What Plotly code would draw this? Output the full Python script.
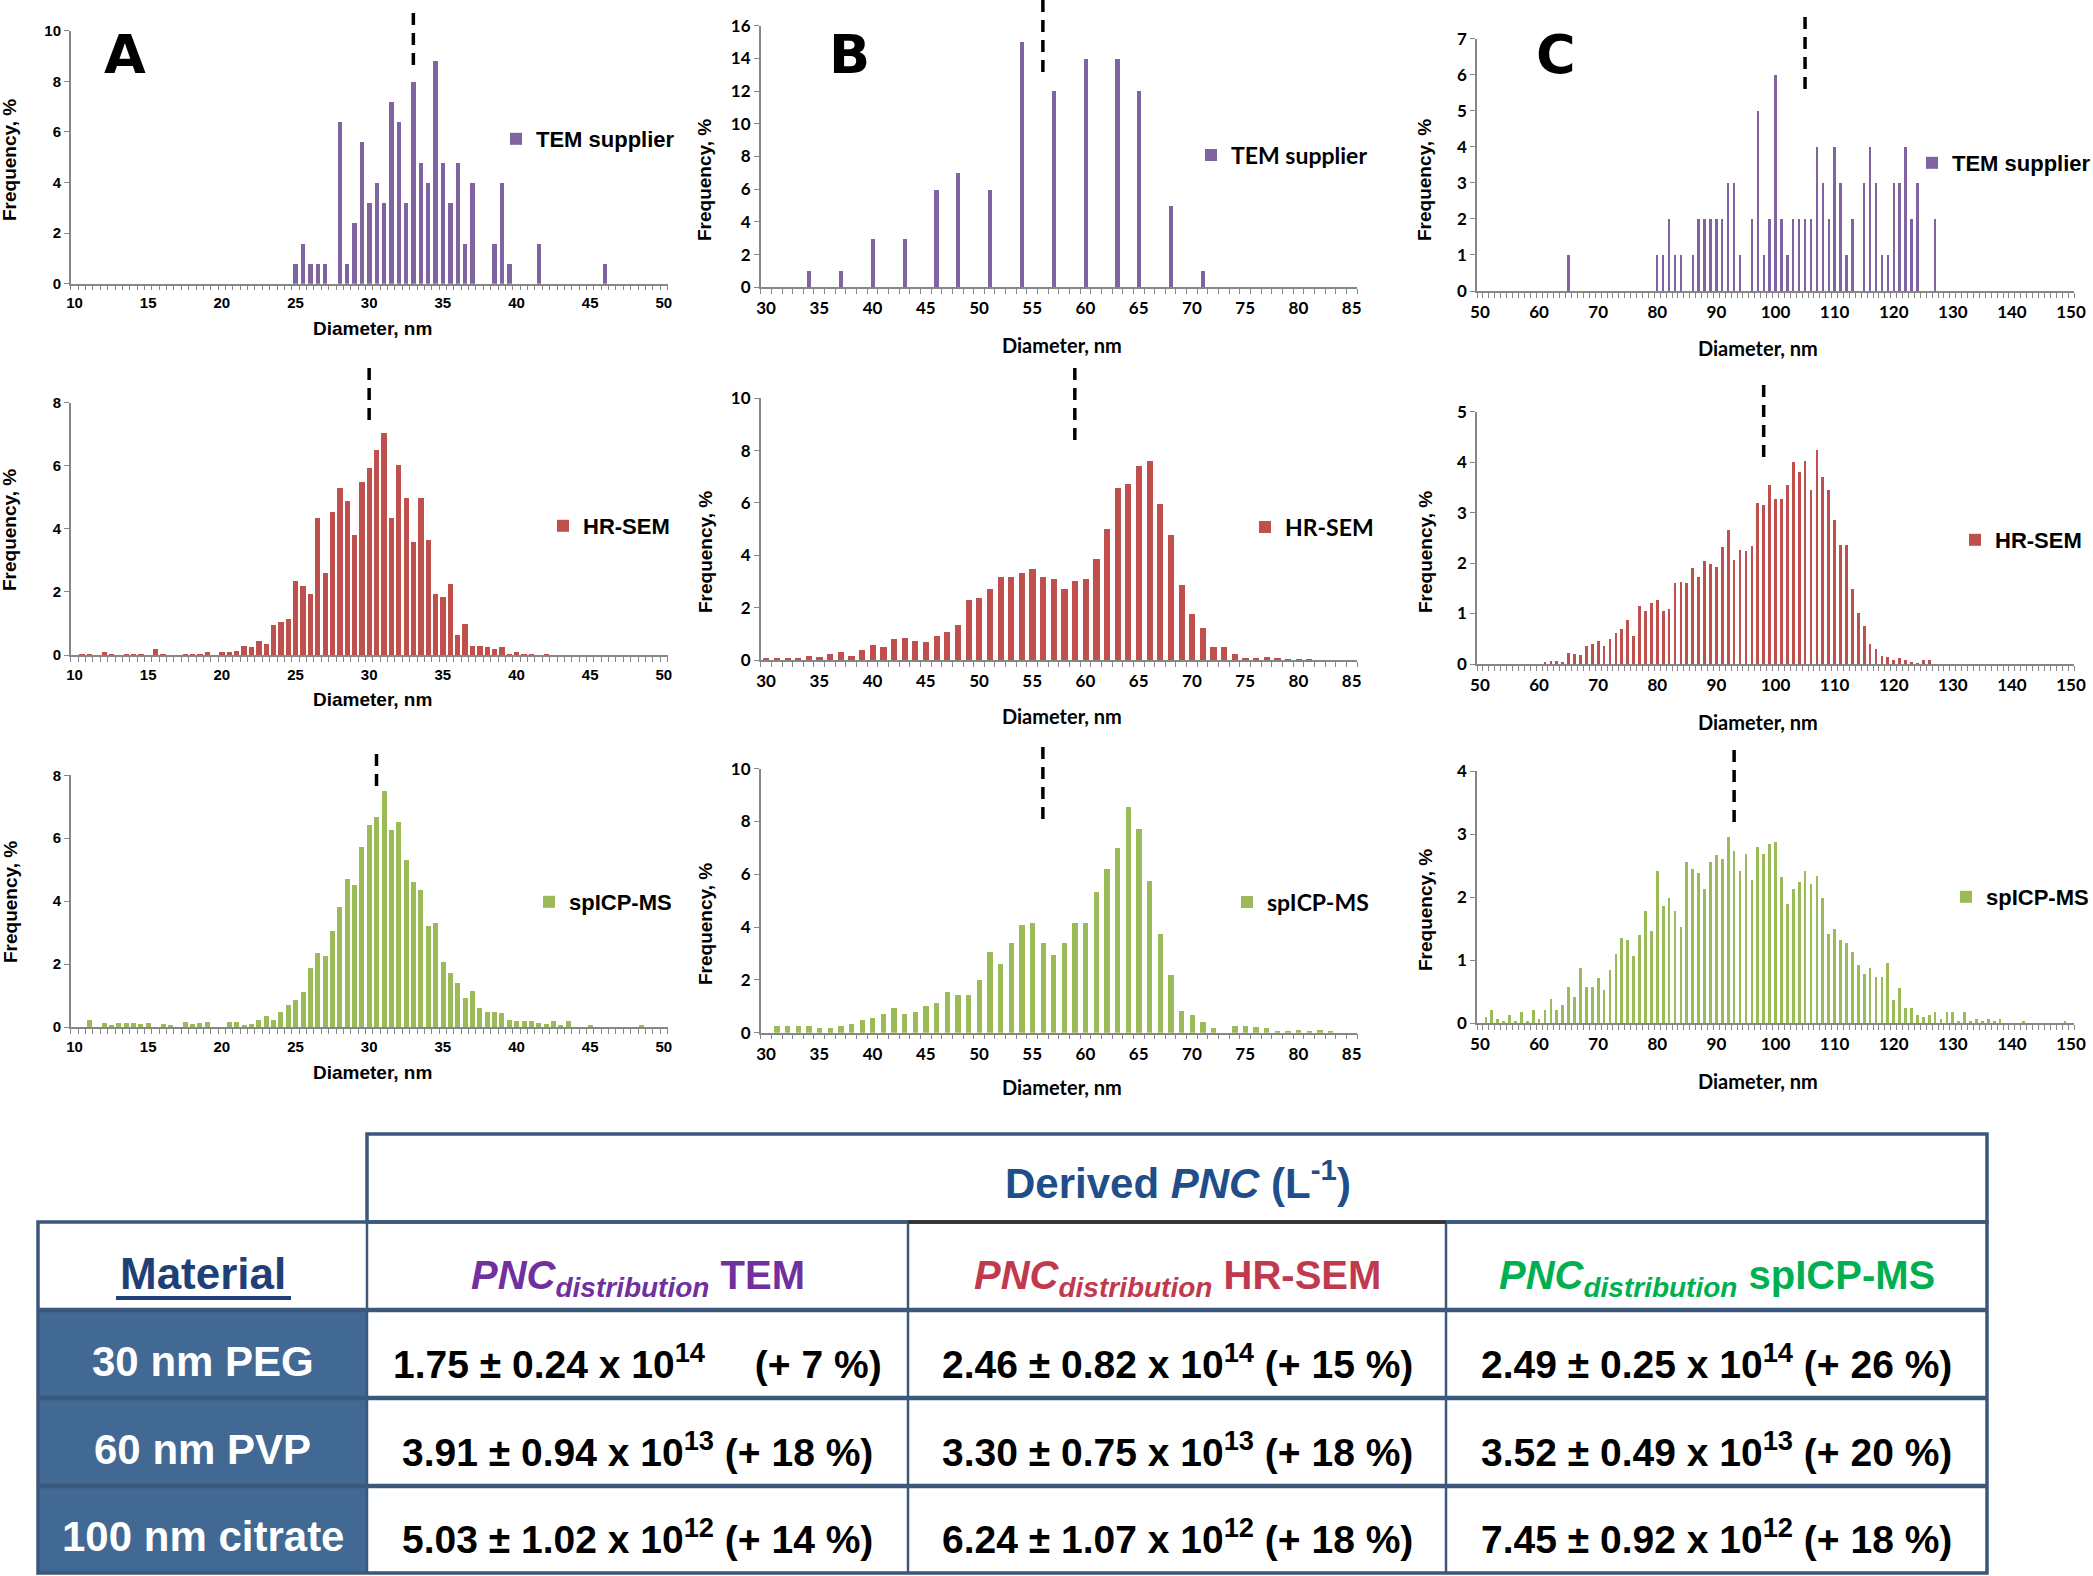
import plotly.graph_objects as go

W, H = 2093, 1576

# ===================== DATA =====================
series_names = ["TEM supplier", "HR-SEM", "spICP-MS"]

# ---- Panel A : 30 nm PEG (diameter, nm / frequency, %) ----
a_tem_d = [25, 25.5, 26, 26.5, 27, 28, 28.5, 29, 29.5, 30, 30.5, 31, 31.5, 32, 32.5, 33, 33.5,
           34, 34.5, 35, 35.5, 36, 36.5, 37, 38.5, 39, 39.5, 41.5, 46]
a_tem_f = [0.8, 1.6, 0.8, 0.8, 0.8, 6.4, 0.8, 2.4, 5.6, 3.2, 4.0, 3.2, 7.2, 6.4, 3.2, 8.0, 4.8,
           4.0, 8.8, 4.8, 3.2, 4.8, 1.6, 4.0, 1.6, 4.0, 0.8, 1.6, 0.8]

a_sem_d = [10.5, 11, 12, 12.5, 13.5, 14, 14.5, 15.5, 16, 17.5, 18, 18.5, 19,
           20, 20.5, 21, 21.5, 22, 22.5, 23, 23.5, 24, 24.5,
           25, 25.5, 26, 26.5, 27, 27.5, 28, 28.5, 29, 29.5,
           30, 30.5, 31, 31.5, 32, 32.5, 33, 33.5, 34, 34.5,
           35, 35.5, 36, 36.5, 37, 37.5, 38, 38.5, 39, 39.5,
           40, 40.5, 41, 42]
a_sem_f = [0.05, 0.05, 0.1, 0.05, 0.05, 0.05, 0.02, 0.2, 0.02, 0.05, 0.02, 0.05, 0.1,
           0.1, 0.1, 0.15, 0.3, 0.25, 0.45, 0.35, 0.95, 1.05, 1.15,
           2.35, 2.2, 1.95, 4.35, 2.6, 4.55, 5.3, 4.9, 3.8, 5.5,
           5.95, 6.5, 7.05, 4.35, 6.05, 5.0, 3.6, 5.0, 3.65, 1.95,
           1.85, 2.25, 0.65, 1.0, 0.3, 0.3, 0.25, 0.2, 0.25, 0.02,
           0.1, 0.03, 0.05, 0.05]

a_icp_d = [11, 12, 12.5, 13, 13.5, 14, 14.5, 15, 16, 16.5, 17.5, 18, 18.5, 19, 20.5, 21, 21.5,
           22, 22.5, 23, 23.5, 24, 24.5, 25, 25.5, 26, 26.5, 27, 27.5, 28, 28.5, 29, 29.5,
           30, 30.5, 31, 31.5, 32, 32.5, 33, 33.5, 34, 34.5, 35, 35.5, 36, 36.5, 37, 37.5,
           38, 38.5, 39, 39.5, 40, 40.5, 41, 41.5, 42, 42.5, 43, 43.5, 45, 48.5]
a_icp_f = [0.2, 0.12, 0.05, 0.12, 0.12, 0.12, 0.08, 0.12, 0.08, 0.05, 0.15, 0.08, 0.12, 0.15, 0.15, 0.15, 0.05,
           0.08, 0.2, 0.35, 0.2, 0.47, 0.7, 0.85, 1.1, 1.85, 2.35, 2.25, 3.05, 3.8, 4.7, 4.5, 5.7,
           6.4, 6.65, 7.5, 6.25, 6.5, 5.3, 4.6, 4.35, 3.2, 3.3, 2.05, 1.7, 1.4, 0.9, 1.12, 0.6,
           0.47, 0.47, 0.43, 0.2, 0.17, 0.17, 0.17, 0.12, 0.08, 0.17, 0.05, 0.17, 0.05, 0.05]

# ---- Panel B : 60 nm PVP ----
b_tem_d = [34, 37, 40, 43, 46, 48, 51, 54, 57, 60, 63, 65, 68, 71]
b_tem_f = [1, 1, 3, 3, 6, 7, 6, 15, 12, 14, 14, 12, 5, 1]

b_sem_d = list(range(30, 82))
b_sem_f = [0.08, 0.03, 0.03, 0.03, 0.15, 0.12, 0.2, 0.3, 0.15, 0.38,
           0.57, 0.5, 0.78, 0.83, 0.72, 0.68, 0.92, 1.05, 1.33, 2.3,
           2.35, 2.7, 3.15, 3.15, 3.3, 3.45, 3.15, 3.1, 2.7, 3.0,
           3.1, 3.85, 5.0, 6.55, 6.7, 7.4, 7.6, 5.95, 4.78, 2.85,
           1.75, 1.22, 0.5, 0.5, 0.2, 0.07, 0.07, 0.1, 0.03, 0.02,
           0.02, 0.02]

b_icp_d = list(range(31, 73)) + list(range(74, 84))
b_icp_f = [0.28, 0.28, 0.25, 0.28, 0.2, 0.2, 0.28, 0.33, 0.5, 0.55,
           0.72, 0.95, 0.72, 0.78, 1.03, 1.13, 1.57, 1.43, 1.43, 2.02,
           3.08, 2.6, 3.4, 4.1, 4.15, 3.4, 2.95, 3.4, 4.15, 4.15,
           5.35, 6.2, 7.0, 8.55, 7.72, 5.75, 3.75, 2.2, 0.82, 0.68,
           0.4, 0.18,
           0.28, 0.28, 0.22, 0.18, 0.07, 0.05, 0.1, 0.05, 0.1, 0.05]

# ---- Panel C : 100 nm citrate ----
c_tem_d = [65, 80, 81, 82, 83, 84, 86, 87, 88, 89, 90, 91, 92, 93, 94,
           96, 97, 98, 99, 100, 101, 102, 103, 104, 105, 106, 107, 108, 109, 110, 111, 112, 113,
           115, 116, 117, 118, 119, 120, 121, 122, 123, 124, 127]
c_tem_f = [1, 1, 1, 2, 1, 1, 1, 2, 2, 2, 2, 2, 3, 3, 1,
           2, 5, 1, 2, 6, 2, 1, 2, 2, 2, 2, 4, 3, 2, 4, 3, 1, 2,
           3, 4, 3, 1, 1, 3, 3, 4, 2, 3, 2]

c_sem_d = list(range(61, 127))
c_sem_f = [0.05, 0.07, 0.07, 0.05, 0.23, 0.21, 0.19, 0.36, 0.41, 0.47,
           0.36, 0.5, 0.62, 0.69, 0.87, 0.57, 1.15, 1.06, 1.22, 1.27,
           1.06, 1.1, 1.62, 1.64, 1.62, 1.9, 1.74, 2.04, 1.99, 1.92,
           2.32, 2.67, 2.06, 2.27, 2.25, 2.34, 3.2, 3.15, 3.55, 3.27,
           3.27, 3.55, 4.0, 3.82, 4.02, 3.45, 4.25, 3.71, 3.45, 2.85,
           2.36, 2.36, 1.5, 1.01, 0.76, 0.41, 0.31, 0.17, 0.15, 0.09,
           0.12, 0.09, 0.05, 0.03, 0.09, 0.08]

c_icp_d = list(range(51, 139)) + [142, 149]
c_icp_f = [0.1, 0.21, 0.07, 0.03, 0.13, 0.03, 0.17, 0.03, 0.21, 0.07,
           0.21, 0.38, 0.21, 0.28, 0.57, 0.42, 0.88, 0.57, 0.57, 0.72,
           0.53, 0.84, 1.1, 1.35, 1.31, 1.07, 1.39, 1.78, 1.46, 2.41,
           1.85, 1.99, 1.78, 1.52, 2.56, 2.45, 2.38, 2.13, 2.56, 2.66,
           2.6, 2.95, 2.73, 2.41, 2.69, 2.27, 2.8, 2.69, 2.84, 2.87,
           2.31, 1.89, 2.13, 2.24, 2.41, 2.2, 2.34, 1.99, 1.42, 1.5,
           1.31, 1.27, 1.12, 0.92, 0.77, 0.88, 0.73, 0.73, 0.95, 0.36,
           0.56, 0.24, 0.24, 0.13, 0.09, 0.13, 0.17, 0.07, 0.17, 0.17,
           0.02, 0.17, 0.02, 0.07, 0.03, 0.07, 0.03, 0.07,
           0.02, 0.02]

# mean diameters (dashed markers), rows: TEM, HR-SEM, spICP-MS
mean_A = [33, 30, 30.5]
mean_B = [56, 59, 56]
mean_C = [105, 98, 93]

# tick labels
x_ticks_A = [10, 15, 20, 25, 30, 35, 40, 45, 50]
x_ticks_B = [30, 35, 40, 45, 50, 55, 60, 65, 70, 75, 80, 85]
x_ticks_C = [50, 60, 70, 80, 90, 100, 110, 120, 130, 140, 150]
y_ticks = {
    "A": [[0, 2, 4, 6, 8, 10], [0, 2, 4, 6, 8], [0, 2, 4, 6, 8]],
    "B": [[0, 2, 4, 6, 8, 10, 12, 14, 16], [0, 2, 4, 6, 8, 10], [0, 2, 4, 6, 8, 10]],
    "C": [[0, 1, 2, 3, 4, 5, 6, 7], [0, 1, 2, 3, 4, 5], [0, 1, 2, 3, 4]],
}
panel_letters = ["A", "B", "C"]

# ---- table ----
materials = ["30 nm PEG", "60 nm PVP", "100 nm citrate"]
methods = ["TEM", "HR-SEM", "spICP-MS"]
pnc_mean = [[1.75, 2.46, 2.49], [3.91, 3.30, 3.52], [5.03, 6.24, 7.45]]
pnc_sd = [[0.24, 0.82, 0.25], [0.94, 0.75, 0.49], [1.02, 1.07, 0.92]]
pnc_exp = [14, 13, 12]
pnc_pct = [[7, 15, 26], [18, 18, 20], [14, 18, 18]]

# ===================== STYLE / LAYOUT =====================
bar_colors = ["#8064A2", "#C0504D", "#9BBB59"]
method_colors = ["#7030A0", "#C0394D", "#00B050"]
AXC = "#868686"
ARIAL = "Liberation Sans, Arial, sans-serif"
CALI = "Lato, Carlito, Calibri, sans-serif"


def px(x):
    return x / W


def py(y):
    return 1 - y / H


def ann(x, y, text, font, **kw):
    d = dict(x=px(x), y=py(y), xref="paper", yref="paper", text=text, showarrow=False,
             xanchor="center", yanchor="middle", font=font)
    d.update(kw)
    return d


col_geom = {
    "A": dict(x0=70.8, x1=667.5, rng=[9.75, 50.25], m0=9.75, md=0.5, ticks=x_ticks_A,
              tfont=dict(family=ARIAL, size=15), tsize=19, tfam=ARIAL,
              ftitle_x=10, dtitle_x=372, letter_x=125),
    "B": dict(x0=760.7, x1=1357.0, rng=[29.5, 85.5], m0=29.5, md=1, ticks=x_ticks_B,
              tfont=dict(family=CALI, size=17), tsize=20, tfam=CALI,
              ftitle_x=705, dtitle_x=1062, letter_x=849),
    "C": dict(x0=1477.0, x1=2074.0, rng=[49.5, 150.5], m0=49.5, md=1, ticks=x_ticks_C,
              tfont=dict(family=CALI, size=17), tsize=20, tfam=CALI,
              ftitle_x=1425, dtitle_x=1758, letter_x=1556),
}
# per panel: top px, baseline px, ymax, bar width, freq-title y, diam-title y, legend (text x, y), dash (y0,y1)
row_geom = {
    "A": [dict(top=30.7, bot=283.7, ymax=10, bw=0.30, fy=160, dy=328, lg=(536, 139), dash=(13, 70)),
          dict(top=402.7, bot=655.0, ymax=8, bw=0.36, fy=530, dy=700, lg=(583, 526), dash=(368, 427)),
          dict(top=775.3, bot=1027.0, ymax=8, bw=0.34, fy=902, dy=1072, lg=(569, 902), dash=(754, 792))],
    "B": [dict(top=25.7, bot=287.3, ymax=16, bw=0.42, fy=180, dy=345, lg=(1231, 155), dash=(0, 80)),
          dict(top=398.3, bot=660.0, ymax=10, bw=0.58, fy=552, dy=716, lg=(1285, 527), dash=(368, 447)),
          dict(top=768.7, bot=1032.7, ymax=10, bw=0.50, fy=924, dy=1087, lg=(1267, 902), dash=(747, 826))],
    "C": [dict(top=38.7, bot=291.0, ymax=7, bw=0.40, fy=180, dy=348, lg=(1952, 163), dash=(17, 95)),
          dict(top=411.7, bot=664.0, ymax=5, bw=0.46, fy=552, dy=722, lg=(1995, 540), dash=(385, 463)),
          dict(top=771.0, bot=1023.0, ymax=4, bw=0.46, fy=910, dy=1081, lg=(1986, 897), dash=(750, 829))],
}
legend_fonts = {"A": dict(family=ARIAL, size=22, weight="bold", color="black"),
                "B": dict(family=CALI, size=23, weight="bold", color="black"),
                "C": dict(family=ARIAL, size=22, weight="bold", color="black")}

data = {
    "A": [(a_tem_d, a_tem_f), (a_sem_d, a_sem_f), (a_icp_d, a_icp_f)],
    "B": [(b_tem_d, b_tem_f), (b_sem_d, b_sem_f), (b_icp_d, b_icp_f)],
    "C": [(c_tem_d, c_tem_f), (c_sem_d, c_sem_f), (c_icp_d, c_icp_f)],
}
means = {"A": mean_A, "B": mean_B, "C": mean_C}

fig = go.Figure()
layout = dict(width=W, height=H, margin=dict(l=0, r=0, t=0, b=0, autoexpand=False),
              paper_bgcolor="white", plot_bgcolor="white", bargap=0, showlegend=True)
annotations = []
shapes = []

i = 0
for ci, col in enumerate(["A", "B", "C"]):
    cg = col_geom[col]
    for ri in range(3):
        i += 1
        rg = row_geom[col][ri]
        xa = "x" if i == 1 else f"x{i}"
        ya = "y" if i == 1 else f"y{i}"
        lg = "legend" if i == 1 else f"legend{i}"
        d, f = data[col][ri]
        fig.add_trace(go.Bar(x=d, y=f, width=rg["bw"], name=series_names[ri],
                             marker=dict(color=bar_colors[ri], line=dict(width=0)),
                             xaxis=xa, yaxis=ya, legend=lg, showlegend=True,
                             hoverinfo="x+y"))
        tf = dict(cg["tfont"], weight="bold", color="black")
        layout["xaxis" if i == 1 else f"xaxis{i}"] = dict(
            domain=[px(cg["x0"]), px(cg["x1"])], range=cg["rng"], anchor=ya,
            showline=True, linecolor=AXC, linewidth=1.5, zeroline=False, showgrid=False,
            tickmode="array", tickvals=cg["ticks"], ticktext=[str(t) for t in cg["ticks"]],
            ticks="outside", ticklen=5, tickcolor="rgba(0,0,0,0)",
            minor=dict(tick0=cg["m0"], dtick=cg["md"], ticks="outside", ticklen=5,
                       tickcolor=AXC, tickwidth=1, showgrid=False),
            tickfont=tf, fixedrange=True)
        layout["yaxis" if i == 1 else f"yaxis{i}"] = dict(
            domain=[py(rg["bot"]), py(rg["top"])], range=[0, rg["ymax"]], anchor=xa,
            showline=True, linecolor=AXC, linewidth=1.5, zeroline=False, showgrid=False,
            tickmode="array", tickvals=y_ticks[col][ri], ticks="outside", ticklen=5,
            tickcolor=AXC, tickfont=tf, fixedrange=True)
        layout[lg] = dict(x=px(rg["lg"][0] - 40), y=py(rg["lg"][1]), xanchor="left",
                          yanchor="middle", bgcolor="rgba(0,0,0,0)", borderwidth=0,
                          font=legend_fonts[col], itemwidth=30, itemclick=False)
        # axis titles
        annotations.append(ann(cg["ftitle_x"], rg["fy"], "Frequency, %",
                               dict(family=ARIAL, size=19, weight="bold", color="black"),
                               textangle=-90))
        annotations.append(ann(cg["dtitle_x"], rg["dy"], "Diameter, nm",
                               dict(family=cg["tfam"], size=cg["tsize"], weight="bold", color="black")))
        # dashed mean-diameter marker
        shapes.append(dict(type="line", xref=xa, yref="paper", x0=means[col][ri], x1=means[col][ri],
                           y0=py(rg["dash"][0]), y1=py(rg["dash"][1]),
                           line=dict(color="black", width=3.5, dash="12px,8px")))
    annotations.append(ann(cg["letter_x"], 55, panel_letters[ci],
                           dict(family="DejaVu Sans, Liberation Sans", size=54, weight="bold",
                                color="black")))

# ===================== TABLE =====================
TX = [38, 367, 908, 1446, 1987]
TY = [1134, 1222, 1310, 1398, 1486, 1573]
TBL = "#3A587C"
BLUE = "#416993"
LW = 3.5

# material column fill
shapes.append(dict(type="rect", xref="paper", yref="paper", x0=px(TX[0]), x1=px(TX[1]),
                   y0=py(TY[5]), y1=py(TY[2]), fillcolor=BLUE, line=dict(width=0), layer="below"))
# header box
shapes.append(dict(type="rect", xref="paper", yref="paper", x0=px(TX[1]), x1=px(TX[4]),
                   y0=py(TY[1]), y1=py(TY[0]), line=dict(color=TBL, width=LW)))
# main outer box
shapes.append(dict(type="rect", xref="paper", yref="paper", x0=px(TX[0]), x1=px(TX[4]),
                   y0=py(TY[5]), y1=py(TY[1]), line=dict(color=TBL, width=LW)))
for yy in TY[2:5]:
    shapes.append(dict(type="line", xref="paper", yref="paper", x0=px(TX[0]), x1=px(TX[4]),
                       y0=py(yy), y1=py(yy), line=dict(color=TBL, width=LW + 1)))
for xx in TX[1:4]:
    shapes.append(dict(type="line", xref="paper", yref="paper", x0=px(xx), x1=px(xx),
                       y0=py(TY[1]), y1=py(TY[5]), line=dict(color=TBL, width=LW - 1)))
shapes.append(dict(type="line", xref="paper", yref="paper", x0=px(TX[2]), x1=px(TX[3]),
                   y0=py(TY[1]), y1=py(TY[1]), line=dict(color="#333333", width=LW)))
# underline under "Material"
shapes.append(dict(type="line", xref="paper", yref="paper", x0=px(116), x1=px(291),
                   y0=py(1298), y1=py(1298), line=dict(color="#1F3F77", width=4)))

annotations.append(ann(1178, 1180, "Derived <i>PNC</i> (L<sup>-1</sup>)",
                       dict(family=ARIAL, size=42, weight="bold", color="#1F4E8A")))
annotations.append(ann((TX[0] + TX[1]) / 2, 1273, "Material",
                       dict(family=ARIAL, size=44, weight="bold", color="#1F3F77")))
for j, m in enumerate(methods):
    cx = (TX[j + 1] + TX[j + 2]) / 2
    annotations.append(ann(cx, 1278, f"<i>PNC</i><sub><i>distribution</i></sub> {m}",
                           dict(family=ARIAL, size=40, weight="bold", color=method_colors[j])))
for r, mat in enumerate(materials):
    cy = (TY[r + 2] + TY[r + 3]) / 2 + 7
    annotations.append(ann((TX[0] + TX[1]) / 2, cy, mat,
                           dict(family=ARIAL, size=42, weight="bold", color="white")))
    for j in range(3):
        cx = (TX[j + 1] + TX[j + 2]) / 2
        pct = pnc_pct[r][j]
        gap = "\u2002\u2002 " if pct < 10 else " "
        txt = (f"{pnc_mean[r][j]:.2f} ± {pnc_sd[r][j]:.2f} x 10<sup>{pnc_exp[r]}</sup>"
               f"{gap}(+ {pct} %)")
        annotations.append(ann(cx, cy, txt,
                               dict(family=ARIAL, size=39, weight="bold", color="black")))

layout["annotations"] = annotations
layout["shapes"] = shapes
fig.update_layout(**layout)

fig.write_html("out.html", include_plotlyjs=True, config={"displayModeBar": False},
               post_script="document.body.style.margin='0';document.body.style.overflow='hidden';")
